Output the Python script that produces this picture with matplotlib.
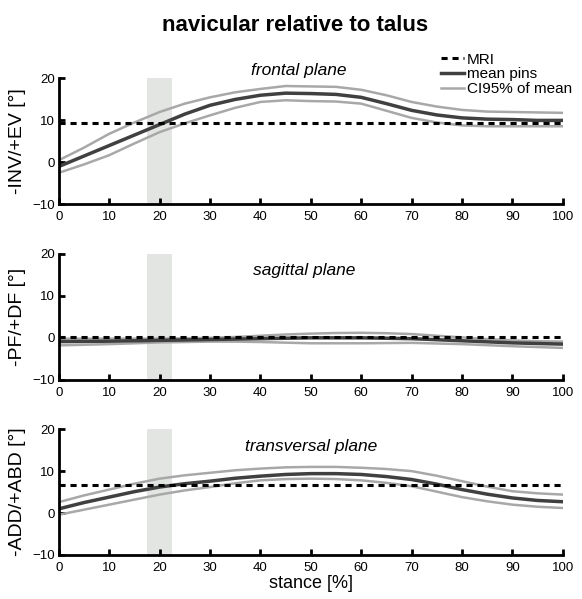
import numpy as np
import matplotlib.pyplot as plt

plt.rcParams['font.family'] = ['Liberation Sans', 'DejaVu Sans']

stance = [0, 5, 10, 15, 20, 25, 30, 35, 40, 45, 50, 55, 60, 65, 70, 75, 80, 85, 90, 95, 100]

# frontal plane
fr_mri = 9.4
fr_mean = [-1.0, 1.5, 4.0, 6.5, 9.0, 11.5, 13.6, 15.0, 16.0, 16.5, 16.4, 16.2, 15.5, 14.0, 12.4, 11.3, 10.6, 10.3, 10.2, 10.0, 10.0]
fr_hi = [0.5, 3.5, 6.8, 9.5, 12.0, 14.0, 15.5, 16.7, 17.5, 18.2, 18.1, 18.0, 17.3, 16.0, 14.4, 13.3, 12.5, 12.1, 12.0, 11.9, 11.8]
fr_lo = [-2.5, -0.5, 1.7, 4.5, 7.2, 9.3, 11.2, 13.0, 14.4, 14.8, 14.6, 14.5, 14.0, 12.3, 10.6, 9.5, 8.8, 8.6, 8.6, 8.6, 8.6]

# sagittal plane
sa_mri = 0.25
sa_mean = [-0.9, -0.85, -0.8, -0.7, -0.6, -0.5, -0.4, -0.3, -0.2, -0.1, 0.0, 0.0, 0.0, -0.1, -0.2, -0.45, -0.7, -0.95, -1.2, -1.35, -1.5]
sa_hi = [-0.2, -0.2, -0.2, -0.2, -0.2, -0.1, 0.0, 0.2, 0.5, 0.8, 1.0, 1.15, 1.2, 1.1, 0.9, 0.5, 0.1, -0.3, -0.6, -0.8, -0.9]
sa_lo = [-1.8, -1.65, -1.5, -1.3, -1.1, -1.0, -0.9, -0.9, -1.0, -1.15, -1.3, -1.3, -1.3, -1.25, -1.2, -1.35, -1.5, -1.75, -2.0, -2.2, -2.4]

# transversal plane
tr_mri = 6.7
tr_mean = [1.0, 2.5, 3.8, 5.1, 6.2, 7.0, 7.6, 8.3, 8.8, 9.2, 9.4, 9.4, 9.2, 8.7, 8.0, 6.9, 5.6, 4.5, 3.6, 3.0, 2.7]
tr_hi = [2.6, 4.2, 5.6, 7.0, 8.2, 9.0, 9.6, 10.2, 10.6, 10.9, 11.0, 11.0, 10.8, 10.5, 10.0, 8.9, 7.6, 6.3, 5.2, 4.7, 4.4]
tr_lo = [-0.4, 0.8, 2.0, 3.2, 4.4, 5.4, 6.2, 7.1, 7.8, 8.1, 8.2, 8.1, 7.8, 7.2, 6.4, 5.1, 3.8, 2.8, 2.0, 1.5, 1.2]

panels = [
    ('frontal plane', '-INV/+EV [°]', fr_mri, fr_mean, fr_hi, fr_lo, 47.6, 21.9),
    ('sagittal plane', '-PF/+DF [°]', sa_mri, sa_mean, sa_hi, sa_lo, 48.6, 16.0),
    ('transversal plane', '-ADD/+ABD [°]', tr_mri, tr_mean, tr_hi, tr_lo, 50.0, 15.8),
]
shade = (17.5, 22.5)

fig = plt.figure(figsize=(5.82, 5.99), dpi=100)
bottoms = [0.659, 0.366, 0.0735]

for i, (name, ylab, mri, mean, hi, lo, tx, ty) in enumerate(panels):
    ax = fig.add_axes([0.101, bottoms[i], 0.866, 0.210])
    ax.axvspan(shade[0], shade[1], color='#e3e5e3', lw=0, zorder=0)
    ax.plot(stance, hi, color='#a8a8a8', lw=1.8, label='CI95% of mean')
    ax.plot(stance, lo, color='#a8a8a8', lw=1.8)
    ax.plot(stance, mean, color='#404040', lw=2.5, label='mean pins')
    ax.plot([0, 100], [mri, mri], color='black', lw=2.2, dashes=(2, 1.6), label='MRI')
    ax.set_xlim(0, 100)
    ax.set_ylim(-10, 20)
    ax.set_xticks(range(0, 101, 10))
    ax.set_yticks([-10, 0, 10, 20])
    for s in ['top', 'right']:
        ax.spines[s].set_visible(False)
    for s in ['left', 'bottom']:
        ax.spines[s].set_linewidth(2.0)
    ax.tick_params(direction='in', length=4, width=2, labelsize=9.5, pad=3)
    ax.tick_params(axis='x', pad=5)
    ax.set_ylabel(ylab, fontsize=14, labelpad=4)
    ax.text(tx, ty, name, style='italic', fontsize=12.5, ha='center', va='center')
    if i == 0:
        h, l = ax.get_legend_handles_labels()
        order = [2, 1, 0]
        fig.legend([h[k] for k in order], [l[k] for k in order],
                   loc='upper left', bbox_to_anchor=(0.745, 0.925), frameon=False,
                   fontsize=11, handlelength=1.5, handletextpad=0.2,
                   labelspacing=0.05, borderpad=0)
    if i == 2:
        ax.set_xlabel('stance [%]', fontsize=13, labelpad=1)

fig.suptitle('navicular relative to talus', fontsize=16, fontweight='bold',
             x=0.507, y=0.975)
fig.savefig('out.png', dpi=100)
